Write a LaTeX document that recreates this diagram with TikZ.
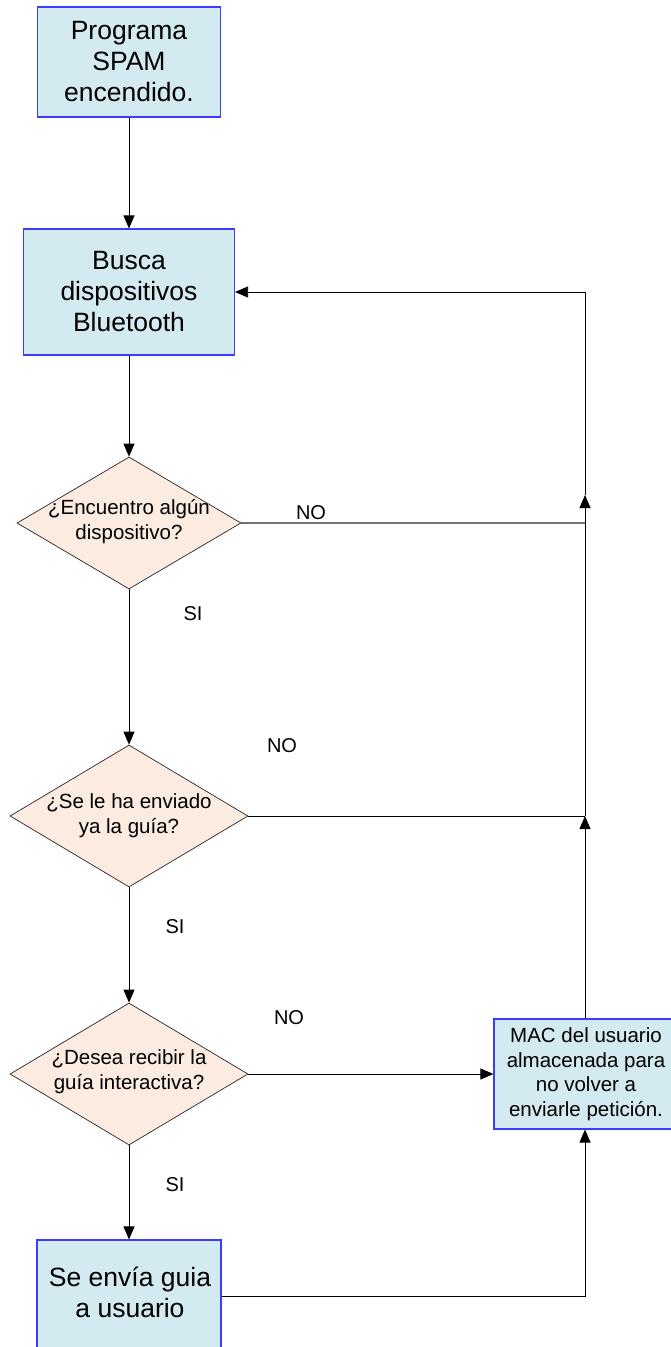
\documentclass[tikz,border=0pt]{standalone}
\usepackage{fontspec}
\setmainfont{Liberation Sans}
\usetikzlibrary{shapes.geometric,arrows.meta}
\definecolor{boxfill}{RGB}{211,234,240}
\definecolor{boxline}{RGB}{60,60,255}
\definecolor{diafill}{RGB}{252,235,224}
\begin{document}
\begin{tikzpicture}[x=1pt,y=-1pt,
  box/.style={draw=boxline,line width=1.1pt,fill=boxfill,rectangle,inner sep=0pt,align=center,
    font=\fontsize{26.5}{31}\selectfont},
  dia/.style={draw=black!85,line width=0.7pt,fill=diafill,diamond,inner sep=0pt},
  diatext/.style={align=center,inner sep=0pt,font=\fontsize{20.5}{25}\selectfont},
  lbl/.style={inner sep=0pt,font=\fontsize{20}{23}\selectfont},
  conn/.style={draw=black,line width=0.8pt},
  arr/.style={conn,-{Triangle[length=13pt,width=11pt]}}]
\useasboundingbox (0,0) rectangle (671,1347);
\clip (0,0) rectangle (671,1347);
% boxes
\node[box,minimum width=183pt,minimum height=110pt] (b1) at (129,62) {Programa\\SPAM\\encendido.};
\node[box,minimum width=211pt,minimum height=126pt] (b2) at (129,292) {Busca\\dispositivos\\Bluetooth};
\node[box,minimum width=184pt,minimum height=112pt] (b4) at (129,1296) {};
\node[align=center,inner sep=0pt,font=\fontsize{26.5}{31}\selectfont] (b4t) at (130,1292) {Se envía guia\\a usuario};
\node[box,minimum width=182pt,minimum height=110pt] (mac) at (585,1074) {};
\node[align=center,inner sep=0pt,font=\fontsize{20.5}{24.5}\selectfont] (mact) at (586,1074) {MAC del usuario\\almacenada para\\no volver a\\enviarle petición.};
% diamonds
\node[dia,minimum width=224pt,minimum height=132pt] (d1) at (129,523) {};
\node[diatext] (d1t) at (129,522) {¿Encuentro algún\\dispositivo?};
\node[dia,minimum width=238pt,minimum height=142pt] (d2) at (129,816) {};
\node[diatext] (d2t) at (129,816) {¿Se le ha enviado\\ya la guía?};
\node[dia,minimum width=238pt,minimum height=142pt] (d3) at (129,1074) {};
\node[diatext] (d3t) at (129,1072) {¿Desea recibir la\\guía interactiva?};
% labels
\node[lbl] (no1) at (311,513) {NO};
\node[lbl] (si1) at (193,614) {SI};
\node[lbl] (no2) at (282,746) {NO};
\node[lbl] (si2) at (175,927) {SI};
\node[lbl] (no3) at (289,1018) {NO};
\node[lbl] (si3) at (175,1185) {SI};
% coordinates on right line
\coordinate (c1) at (585,523);
\coordinate (a1) at (585,495);
\coordinate (c2) at (585,816);
\coordinate (top) at (585,292);
% connectors
\draw[arr] (b1.south) -- (b2.north);
\draw[arr] (b2.south) -- (d1.north);
\draw[arr] (d1.south) -- (d2.north);
\draw[arr] (d2.south) -- (d3.north);
\draw[arr] (d3.south) -- (b4.north);
\draw[arr] (d3.east) -- (mac.west);
\draw[arr] (b4.east) -| (mac.south);
\draw[draw=black!55,line width=1.3pt] (d1.east) -- (c1);
\draw[conn] (d2.east) -- (c2);
\draw[arr] (mac.north) -- (c2);
\draw[arr] (c2) -- (a1);
\draw[arr] (a1) -- (top) -- (b2.east);
\end{tikzpicture}
\end{document}
